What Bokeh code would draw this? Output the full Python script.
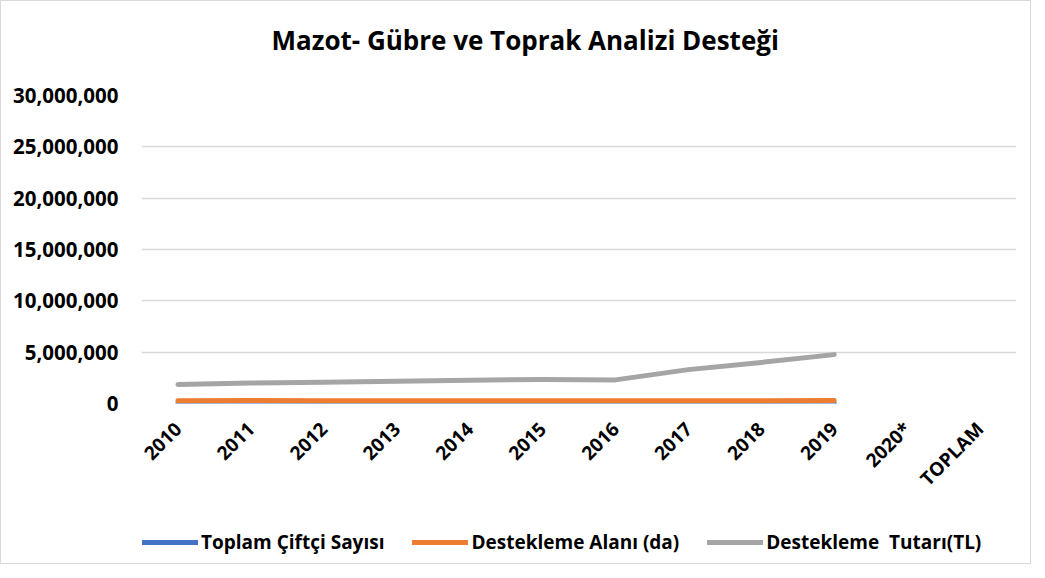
import math
from bokeh.plotting import figure
from bokeh.layouts import column
from bokeh.models import Range1d, FactorRange, NumeralTickFormatter, Legend, LegendItem, SingleIntervalTicker, Title
from bokeh.embed import file_html
from bokeh.resources import INLINE

categories = ["2010", "2011", "2012", "2013", "2014", "2015", "2016", "2017", "2018", "2019", "2020*", "TOPLAM"]
years = ["2010", "2011", "2012", "2013", "2014", "2015", "2016", "2017", "2018", "2019"]
ciftci_sayisi = [5200, 5300, 5100, 5000, 4900, 4800, 4900, 4700, 4600, 4500]
destekleme_alani = [280000, 285000, 275000, 270000, 265000, 260000, 270000, 265000, 260000, 300000]
destekleme_tutari = [1850000, 2000000, 2070000, 2170000, 2270000, 2330000, 2300000, 3300000, 4000000, 4760000]
series = [ciftci_sayisi, destekleme_alani, destekleme_tutari]
series_names = ["Toplam Çiftçi Sayısı", "Destekleme Alanı (da)", "Destekleme  Tutarı(TL)"]
colors = ["#4472C4", "#ED7D31", "#A5A5A5"]
title_text = "Mazot- Gübre ve Toprak Analizi Desteği"

FONT = "Open Sans"

x_range = FactorRange(*categories)

p = figure(
    x_range=x_range,
    y_range=Range1d(0, 30000000),
    width=1029, height=505,
    output_backend="svg", toolbar_location=None,
    min_border_left=140, min_border_right=14, min_border_top=94, min_border_bottom=103,
)
p.outline_line_color = None
p.xgrid.grid_line_color = None
p.ygrid.grid_line_color = "#d9d9d9"
p.ygrid.grid_line_width = 1.5

p.title.text = title_text
p.title.text_font = FONT
p.title.text_font_size = "26px"
p.title.text_font_style = "bold"
p.title.text_color = "#000000"
p.title.align = "left"
p.title.offset = 130
p.title.vertical_align = "bottom"
p.title.standoff = 0

# empty spacer between the title and the plot area
spacer = Title(text=" ", text_font_size="10px", standoff=25)
p.add_layout(spacer, "above")

p.yaxis.ticker = SingleIntervalTicker(interval=5000000)
p.yaxis.formatter = NumeralTickFormatter(format="0,0")
for ax in (p.xaxis, p.yaxis):
    ax.axis_line_color = None
    ax.major_tick_line_color = None
    ax.minor_tick_line_color = None
    ax.major_label_text_font = FONT
    ax.major_label_text_font_style = "bold"
    ax.major_label_text_color = "#000000"
p.yaxis.major_label_text_font_size = "20.5px"
p.yaxis.major_label_standoff = 17
p.xaxis.major_label_text_font_size = "19px"
p.xaxis.major_label_orientation = math.pi / 4
p.xaxis.major_label_standoff = 16

for vals, c in zip(series, colors):
    p.line(years, vals, line_color=c, line_width=5, line_cap="round", line_join="round")

# legend strip below the chart (its own lines lie outside its visible range)
lg = figure(
    x_range=x_range, y_range=Range1d(-2, -1),
    width=1029, height=57, output_backend="svg", toolbar_location=None,
    x_axis_type=None, y_axis_type=None,
    min_border_left=140, min_border_right=14, min_border_top=0, min_border_bottom=0,
)
lg.outline_line_color = None
lg.grid.grid_line_color = None
renderers = [lg.line(years, vals, line_color=c, line_width=5, line_cap="round")
             for vals, c in zip(series, colors)]
legend = Legend(
    items=[LegendItem(label=n, renderers=[r]) for n, r in zip(series_names, renderers)],
    orientation="horizontal",
    location=(1, 8),
    border_line_color=None,
    background_fill_alpha=0,
    padding=0, margin=0,
    glyph_width=56, glyph_height=20,
    label_standoff=3, spacing=28,
    label_text_font=FONT, label_text_font_style="bold", label_text_font_size="19px",
    label_text_color="#000000",
)
lg.add_layout(legend)

layout = column(p, lg, spacing=0, styles={"border": "1px solid #d9d9d9"})

open("out.html", "w").write(file_html(layout, INLINE))
